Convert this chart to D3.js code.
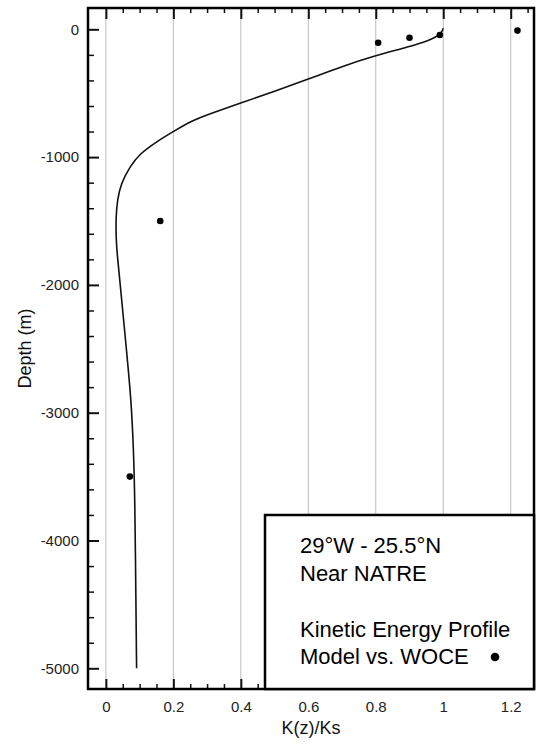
<!DOCTYPE html>
<html>
<head>
<meta charset="utf-8">
<script src="https://cdn.jsdelivr.net/npm/d3@7"></script>
<style>
  html, body { margin: 0; padding: 0; background: #fff; }
  svg { display: block; font-family: "Liberation Sans", Arial, Helvetica, sans-serif; }
</style>
</head>
<body>
<svg id="chart" width="539" height="750"></svg>
<script>
// ---- Data ----
const modelDepth = [8, -15, -37, -60, -84, -136, -205, -290, -390, -485, -577, -660, -715, -800, -880, -975, -1075, -1205, -1335, -1466, -1600, -1727, -2118, -2509, -2900, -3290, -3683, -4465, -5000];
const modelK     = [1.0, 0.997, 0.99, 0.978, 0.96, 0.90, 0.80, 0.70, 0.60, 0.50, 0.40, 0.31, 0.255, 0.20, 0.15, 0.10, 0.071, 0.045, 0.034, 0.030, 0.030, 0.032, 0.047, 0.061, 0.075, 0.082, 0.086, 0.089, 0.091];
const woceDepth = [-10, -45, -66, -105, -1500, -3500];
const woceK     = [1.22, 0.99, 0.90, 0.807, 0.161, 0.071];
const xMajorTicks = [0, 0.2, 0.4, 0.6, 0.8, 1.0, 1.2];
const xTickLabels = ["0", "0.2", "0.4", "0.6", "0.8", "1", "1.2"];
const xMinorTicks = [0.05, 0.1, 0.15, 0.25, 0.3, 0.35, 0.45, 0.5, 0.55, 0.65, 0.7, 0.75, 0.85, 0.9, 0.95, 1.05, 1.1, 1.15, 1.25];
const yMajorTicks = [0, -1000, -2000, -3000, -4000, -5000];
const yTickLabels = ["0", "-1000", "-2000", "-3000", "-4000", "-5000"];
const yMinorTicks = [-200, -400, -600, -800, -1200, -1400, -1600, -1800, -2200, -2400, -2600, -2800, -3200, -3400, -3600, -3800, -4200, -4400, -4600, -4800];
const legendLines = ["29°W - 25.5°N", "Near NATRE", "", "Kinetic Energy Profile", "Model vs. WOCE"];
const xTitle = "K(z)/Ks";
const yTitle = "Depth (m)";

// ---- Layout ----
const L = 88, R = 534, T = 8, B = 689;
const svg = d3.select("#chart");
const x = d3.scaleLinear().domain([-0.053, 1.269]).range([L, R]);
const y = d3.scaleLinear().domain([166.7, -5162]).range([T, B]);

// gridlines
svg.append("g").selectAll("line").data(xMajorTicks).join("line")
  .attr("x1", d => x(d)).attr("x2", d => x(d))
  .attr("y1", T).attr("y2", B)
  .attr("stroke", "#bdbdbd").attr("stroke-width", 1);

// axes (ticks inward)
function styleAxis(g, w) {
  g.select(".domain").remove();
  g.selectAll(".tick line").attr("stroke", "#111").attr("stroke-width", w);
  g.selectAll(".tick text").attr("fill", "#222").style("font-size", "15px").style("font-family", "Liberation Sans, Arial, sans-serif");
}
svg.append("g").attr("transform", `translate(${L},0)`)
  .call(d3.axisLeft(y).tickValues(yMajorTicks).tickSizeInner(-11).tickSizeOuter(0).tickPadding(9).tickFormat((d, i) => yTickLabels[i]))
  .call(g => styleAxis(g, 2));
svg.append("g").attr("transform", `translate(${L},0)`)
  .call(d3.axisLeft(y).tickValues(yMinorTicks).tickSizeInner(-6).tickSizeOuter(0).tickFormat(""))
  .call(g => styleAxis(g, 1.5));
svg.append("g").attr("transform", `translate(0,${B})`)
  .call(d3.axisBottom(x).tickValues(xMajorTicks).tickSizeInner(-10).tickSizeOuter(0).tickPadding(12).tickFormat((d, i) => xTickLabels[i]))
  .call(g => styleAxis(g, 2));
svg.append("g").attr("transform", `translate(0,${B})`)
  .call(d3.axisBottom(x).tickValues(xMinorTicks).tickSizeInner(-5).tickSizeOuter(0).tickFormat(""))
  .call(g => styleAxis(g, 1.5));
svg.append("g").attr("transform", `translate(0,${T})`)
  .call(d3.axisTop(x).tickValues(xMajorTicks).tickSizeInner(-11).tickSizeOuter(0).tickFormat(""))
  .call(g => styleAxis(g, 2));
svg.append("g").attr("transform", `translate(0,${T})`)
  .call(d3.axisTop(x).tickValues(xMinorTicks).tickSizeInner(-5).tickSizeOuter(0).tickFormat(""))
  .call(g => styleAxis(g, 1.5));

// model line
const line = d3.line().x(d => x(d[0])).y(d => y(d[1])).curve(d3.curveBasis);
svg.append("path")
  .datum(modelK.map((k, i) => [k, modelDepth[i]]))
  .attr("d", line).attr("fill", "none").attr("stroke", "#111").attr("stroke-width", 1.6);

// WOCE points
svg.append("g").selectAll("circle").data(woceK.map((k, i) => [k, woceDepth[i]])).join("circle")
  .attr("cx", d => x(d[0])).attr("cy", d => y(d[1])).attr("r", 3.3).attr("fill", "#000");

// frame
svg.append("rect").attr("x", L).attr("y", T).attr("width", R - L).attr("height", B - T)
  .attr("fill", "none").attr("stroke", "#000").attr("stroke-width", 2.5);

// legend box
const lx = 265, ly = 515;
svg.append("rect").attr("x", lx).attr("y", ly).attr("width", R - lx).attr("height", B - ly)
  .attr("fill", "#fff").attr("stroke", "#000").attr("stroke-width", 2.5);
const lt = svg.append("g").style("font-size", "22px").attr("fill", "#000");
const lineY = [553, 581, 609, 637, 664];
legendLines.forEach((s, i) => {
  if (s) lt.append("text").attr("x", 300).attr("y", lineY[i]).text(s);
});
svg.append("circle").attr("cx", 495).attr("cy", 657).attr("r", 4.3).attr("fill", "#000");

// axis titles
svg.append("text").attr("x", (L + R) / 2).attr("y", 734).attr("text-anchor", "middle")
  .style("font-size", "18px").attr("fill", "#111").text(xTitle);
svg.append("text").attr("transform", `translate(31,${(T + B) / 2}) rotate(-90)`).attr("text-anchor", "middle")
  .style("font-size", "18px").attr("fill", "#111").text(yTitle);
</script>
</body>
</html>
